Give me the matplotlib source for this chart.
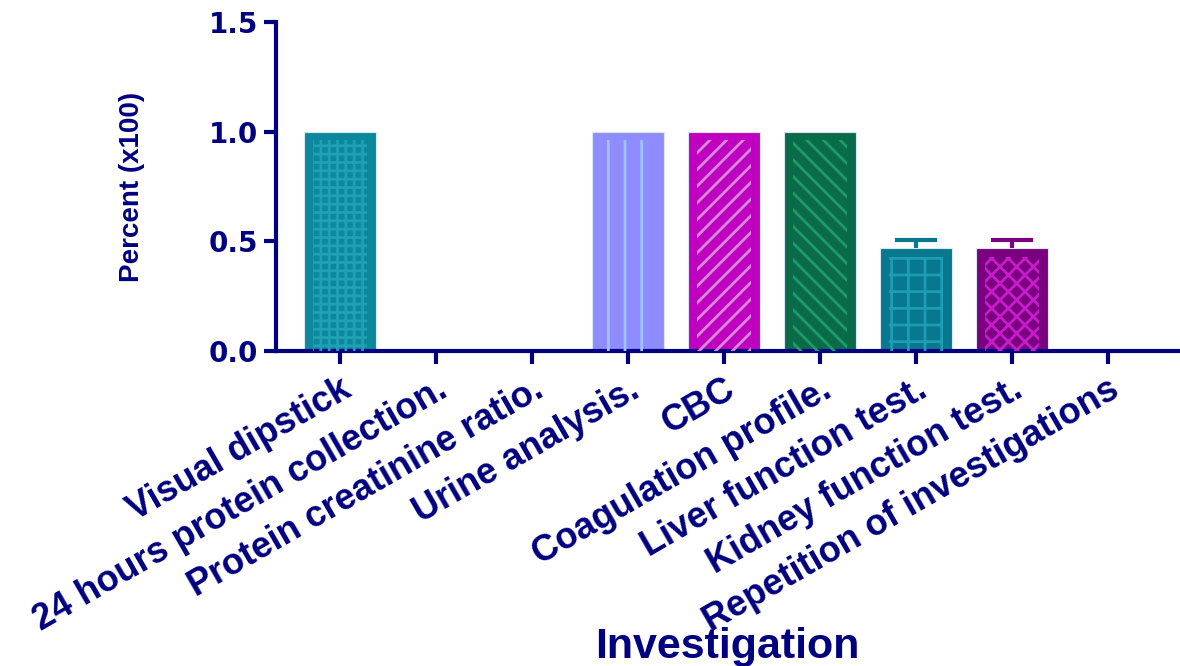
import matplotlib.pyplot as plt
import numpy as np

# Share of patients receiving each investigation
investigations = ['Visual dipstick', '24 hours protein collection.',
                  'Protein creatinine ratio.', 'Urine analysis.', 'CBC',
                  'Coagulation profile.', 'Liver function test.',
                  'Kidney function test.', 'Repetition of investigations']
percent = [1.0, 0.0, 0.0, 1.0, 1.0, 1.0, 0.47, 0.47, 0.0]
err_up = [0, 0, 0, 0, 0, 0, 0.035, 0.035, 0]

fill_colors = ['#0c889c', '#0c889c', '#0c889c', '#8f8cff', '#c000c0',
               '#0a6b48', '#08788e', '#7a007f', '#0c889c']
hatch_colors = ['#1fa0b4', '#1fa0b4', '#1fa0b4', '#9cc4ff', '#d88ad8',
                '#1f9a6a', '#1e9cb4', '#c81ccc', '#1fa0b4']
hatches = ['++', '', '', '|', '//', '\\\\', '+', 'xx', '']

navy = '#000080'
plt.rcParams['font.family'] = ['Liberation Sans', 'DejaVu Sans']
plt.rcParams['hatch.linewidth'] = 2.0

fig = plt.figure(figsize=(11.8, 6.66), dpi=100)
ax = fig.add_axes([0.234, 0.473, 0.764, 0.494])

x = np.arange(len(investigations))
ax.bar(x, percent, width=0.75, color=fill_colors, edgecolor='#d8e8f0',
       linewidth=0.8, zorder=2)
# pattern sits inside the bar with a small solid margin
for i in range(len(x)):
    if percent[i] > 0 and hatches[i]:
        ax.bar(x[i], percent[i] - 0.04, width=0.56, fill=False,
               edgecolor=hatch_colors[i], linewidth=0, hatch=hatches[i],
               zorder=3)
# upper error bars only
for i in range(len(x)):
    if err_up[i] > 0:
        eb = ax.errorbar(x[i], percent[i], yerr=[[0], [err_up[i]]],
                         fmt='none', ecolor=fill_colors[i], elinewidth=3,
                         capsize=15, capthick=3, zorder=1)
        eb[1][0].set_visible(False)

ax.set_xlim(-0.667, 8.73)
ax.set_ylim(0, 1.5)
ax.set_yticks([0.0, 0.5, 1.0, 1.5])
ax.set_yticklabels(['0.0', '0.5', '1.0', '1.5'], fontsize=20,
                   fontweight='bold', color=navy, family='DejaVu Sans')
ax.set_xticks(x)
ax.set_xticklabels(investigations, rotation=30, ha='right', va='top',
                   rotation_mode='anchor', fontsize=26, fontweight='bold',
                   color=navy)

for side in ['top', 'right']:
    ax.spines[side].set_visible(False)
for side in ['left', 'bottom']:
    ax.spines[side].set_color(navy)
    ax.spines[side].set_linewidth(3)
ax.tick_params(axis='both', colors=navy, width=3, length=9)
ax.tick_params(axis='x', pad=6)
ax.tick_params(axis='y', pad=4)

ax.set_ylabel('Percent (x100)', fontsize=20, fontweight='bold', color=navy)
ax.yaxis.set_label_coords(-0.145, 0.5)
ax.set_xlabel('Investigation', fontsize=31, fontweight='bold', color=navy)
ax.xaxis.set_label_coords(0.5, -0.84)

fig.savefig('out.png', dpi=100)
